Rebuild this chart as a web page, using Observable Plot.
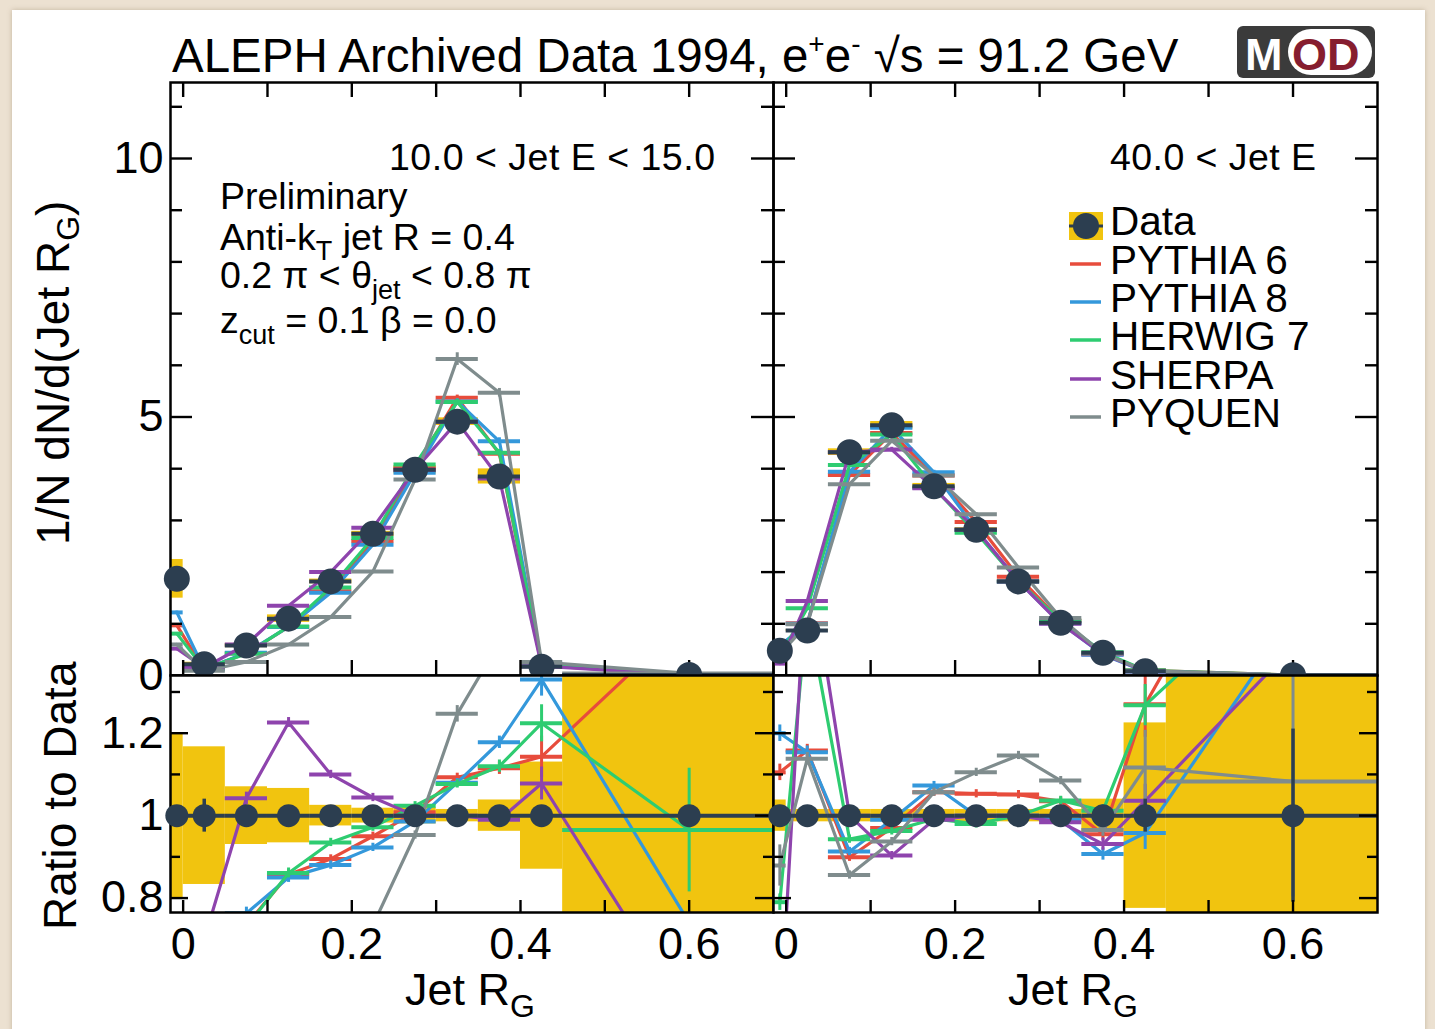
<!DOCTYPE html>
<html><head><meta charset="utf-8">
<script src="https://cdn.jsdelivr.net/npm/d3@7"></script>
<script src="https://cdn.jsdelivr.net/npm/@observablehq/plot@0.6"></script>
<style>
html,body{margin:0;padding:0;background:#ece1d1;}
#page{position:relative;width:1435px;height:1029px;overflow:hidden;}
#card{position:absolute;left:12px;top:10px;width:1413px;height:1040px;background:#fff;box-shadow:0 0 5px rgba(120,100,70,0.35);}
.layer{position:absolute;left:0;top:0;width:1435px;height:1029px;}
.layer svg{position:absolute;left:0;top:0;}
</style></head>
<body><div id="page"><div id="card"></div></div>
<script>
// ---------- data ----------
const xLow    = [-0.015, 0.00, 0.05, 0.10, 0.15, 0.20, 0.25, 0.30, 0.35, 0.40, 0.45];
const xHigh   = [ 0.000, 0.05, 0.10, 0.15, 0.20, 0.25, 0.30, 0.35, 0.40, 0.45, 0.75];
const xCenter = [-0.0075, 0.025, 0.075, 0.125, 0.175, 0.225, 0.275, 0.325, 0.375, 0.425, 0.6];

const genNames  = ["PYTHIA 6", "PYTHIA 8", "HERWIG 7", "SHERPA", "PYQUEN"];
const genColors = ["#e74c3c", "#3498db", "#2ecc71", "#8e44ad", "#7f8c8d"];

// 10.0 < Jet E < 15.0
const dataL     = [1.87, 0.22, 0.58, 1.10, 1.82, 2.74, 3.98, 4.91, 3.85, 0.17, 0.01];
const dataSystL = [0.20, 0.167, 0.07, 0.066, 0.025, 0.018, 0.02, 0.015, 0.038, 0.13, 0.60];
const dataStatL = [0.01, 0.04, 0.01, 0.01, 0.01, 0.01, 0.01, 0.01, 0.01, 0.02, 0.0];
const p6TopL = [0.97, 0.12, 0.43, 0.94, 1.63, 2.60, 4.01, 5.37, 4.29, 0.19, 0.015];
const p8TopL = [1.22, 0.12, 0.44, 0.94, 1.60, 2.53, 3.92, 5.30, 4.53, 0.23, 0.007];
const h7TopL = [0.81, 0.13, 0.42, 0.95, 1.70, 2.66, 4.08, 5.29, 4.31, 0.21, 0.01];
const shTopL = [0.52, 0.15, 0.60, 1.35, 2.00, 2.86, 3.98, 4.91, 3.81, 0.18, 0.005];
const pqTopL = [0.60, 0.09, 0.26, 0.60, 1.13, 2.01, 3.79, 6.12, 5.47, 0.26, 0.04];
const p6RatioL = [0.52, 0.55, 0.735, 0.857, 0.895, 0.950, 1.008, 1.093, 1.115, 1.143, 1.48];
const p8RatioL = [0.65, 0.55, 0.763, 0.850, 0.880, 0.923, 0.986, 1.080, 1.178, 1.330, 0.74];
const h7RatioL = [0.43, 0.60, 0.730, 0.861, 0.935, 0.972, 1.024, 1.077, 1.120, 1.224, 0.965];
const shRatioL = [0.28, 0.70, 1.042, 1.226, 1.100, 1.044, 1.000, 1.000, 0.990, 1.078, 0.51];
const pqRatioL = [0.32, 0.40, 0.450, 0.550, 0.620, 0.734, 0.953, 1.247, 1.420, 1.500, 4.0];
const p6ErrL = [0.02, 0.03, 0.015, 0.012, 0.01, 0.01, 0.01, 0.01, 0.015, 0.05, 0.03];
const p8ErrL = [0.02, 0.03, 0.015, 0.012, 0.01, 0.01, 0.01, 0.01, 0.015, 0.04, 0.01];
const h7ErrL = [0.02, 0.03, 0.015, 0.012, 0.01, 0.01, 0.01, 0.01, 0.015, 0.045, 0.15];
const shErrL = [0.02, 0.03, 0.015, 0.012, 0.01, 0.01, 0.01, 0.01, 0.015, 0.04, 0.03];
const pqErrL = [0.02, 0.03, 0.015, 0.012, 0.01, 0.01, 0.01, 0.02, 0.015, 0.04, 0.05];

// 40.0 < Jet E
const dataR     = [0.48, 0.87, 4.32, 4.84, 3.66, 2.82, 1.82, 1.02, 0.44, 0.08, 0.005];
const dataSystR = [0.038, 0.015, 0.015, 0.015, 0.015, 0.015, 0.015, 0.015, 0.04, 0.225, 0.60];
const dataStatR = [0.01, 0.01, 0.005, 0.005, 0.005, 0.005, 0.005, 0.01, 0.01, 0.04, 0.21];
const p6TopR = [0.53, 1.01, 3.88, 4.69, 3.87, 2.97, 1.91, 1.06, 0.42, 0.10, 0.01];
const p8TopR = [0.58, 1.00, 3.94, 4.79, 3.93, 2.82, 1.82, 1.01, 0.40, 0.077, 0.007];
const h7TopR = [0.38, 1.30, 4.07, 4.66, 3.63, 2.76, 1.82, 1.06, 0.45, 0.10, 0.008];
const shTopR = [0.23, 1.44, 4.32, 4.37, 3.62, 2.82, 1.82, 1.00, 0.41, 0.083, 0.007];
const pqTopR = [0.42, 0.99, 3.70, 4.54, 3.87, 3.12, 2.09, 1.11, 0.42, 0.09, 0.005];
const p6RatioR = [1.105, 1.158, 0.899, 0.970, 1.057, 1.053, 1.051, 1.035, 0.955, 1.270, 1.90];
const p8RatioR = [1.200, 1.154, 0.913, 0.990, 1.073, 1.000, 1.000, 0.990, 0.907, 0.958, 1.48];
const h7RatioR = [0.790, 1.500, 0.943, 0.963, 0.992, 0.980, 1.000, 1.037, 1.012, 1.268, 1.60];
const shRatioR = [0.480, 1.650, 1.000, 0.903, 0.990, 1.000, 1.000, 0.984, 0.931, 1.036, 1.41];
const pqRatioR = [0.879, 1.138, 0.856, 0.937, 1.057, 1.105, 1.146, 1.085, 0.965, 1.117, 1.083];
const p6ErrR = [0.02, 0.015, 0.01, 0.01, 0.01, 0.01, 0.01, 0.01, 0.015, 0.08, 0.03];
const p8ErrR = [0.02, 0.015, 0.01, 0.01, 0.01, 0.01, 0.01, 0.01, 0.015, 0.04, 0.03];
const h7ErrR = [0.02, 0.015, 0.01, 0.01, 0.01, 0.01, 0.01, 0.01, 0.015, 0.05, 0.03];
const shErrR = [0.02, 0.015, 0.01, 0.01, 0.01, 0.01, 0.01, 0.01, 0.015, 0.04, 0.03];
const pqErrR = [0.05, 0.015, 0.01, 0.01, 0.01, 0.01, 0.01, 0.01, 0.015, 0.09, 0.28];

// ticks
const ticksX = [0, 0.1, 0.2, 0.3, 0.4, 0.5, 0.6];
const labelsX = [0, 0.2, 0.4, 0.6];
const topMajor = [0, 5, 10];
const topMinor = [1, 2, 3, 4, 6, 7, 8, 9, 11];
const ratioMajor = [0.8, 1, 1.2];
const ratioMinor = [0.9, 1.1, 1.3];

// ---------- layout ----------
const W = 1435, H = 1029;
const xDomain = [-0.015, 0.7];
const topDomain = [0, 11.47];
const ratioDomain = [0.765, 1.34];
const NAVY = "#2c3e50", YEL = "#f1c40f";
const FONT = "'Liberation Sans', Arial, Helvetica, sans-serif";

function frameTicks(xd, yd, kx, ky, yMaj, yMin, majLen, minLen, xLen, top) {
  const st = {stroke: "black", strokeWidth: 2.4};
  const m = [];
  for (const [vals, len] of [[yMaj, majLen], [yMin, minLen]]) {
    m.push(Plot.ruleY(vals, {y: d => d, x1: xd[0], x2: xd[0] + len * kx, ...st}));
    m.push(Plot.ruleY(vals, {y: d => d, x1: xd[1] - len * kx, x2: xd[1], ...st}));
  }
  m.push(Plot.ruleX(ticksX, {x: d => d, y1: yd[0], y2: yd[0] + xLen * ky, ...st}));
  if (top) m.push(Plot.ruleX(ticksX, {x: d => d, y1: yd[1] - xLen * ky, y2: yd[1], ...st}));
  return m;
}

function panel(o) {
  const [x0, x1] = o.fx, [y0, y1] = o.fy, yd = o.yDomain;
  const kx = (xDomain[1] - xDomain[0]) / (x1 - x0);
  const ky = (yd[1] - yd[0]) / (y1 - y0);
  const rows = xCenter.map((x, i) => {
    const v = o.isRatio ? 1 : o.data[i];
    return {x, lo: xLow[i], hi: xHigh[i], y: v,
      b1: v * (1 - o.syst[i]), b2: v * (1 + o.syst[i]),
      s1: v * (1 - o.stat[i]), s2: v * (1 + o.stat[i])};
  });
  const marks = [];
  if (o.isRatio) marks.push(Plot.frame({fill: "white", stroke: "none"}));
  marks.push(Plot.rect(rows, {x1: "lo", x2: "hi", y1: "b1", y2: "b2", fill: YEL, clip: true}));
  o.mc.forEach((vals, g) => {
    const r = xCenter.map((x, i) => ({x, lo: xLow[i], hi: xHigh[i], y: vals[i],
      e: o.isRatio ? o.err[g][i] : vals[i] * o.err[g][i]}));
    const c = genColors[g];
    marks.push(Plot.line(r, {x: "x", y: "y", stroke: c, strokeWidth: 3.2, clip: true}));
    marks.push(Plot.ruleX(r, {x: "x", y1: d => d.y - d.e, y2: d => d.y + d.e, stroke: c, strokeWidth: 3, clip: true}));
    marks.push(Plot.ruleY(r, {y: "y", x1: "lo", x2: "hi", stroke: c, strokeWidth: 4, clip: true}));
  });
  marks.push(Plot.ruleY(rows, {y: "y", x1: "lo", x2: "hi", stroke: NAVY, strokeWidth: 4, clip: true}));
  marks.push(Plot.ruleX(rows, {x: "x", y1: "s1", y2: "s2", stroke: NAVY, strokeWidth: 3.5, clip: true}));
  marks.push(Plot.frame({stroke: "black", strokeWidth: 2.5}));
  marks.push(...frameTicks(xDomain, yd, kx, ky, o.yMaj, o.yMin, o.majLen, o.minLen, o.xLen, !o.isRatio));
  marks.push(Plot.dot(rows, {x: "x", y: "y", r: o.dotR, fill: NAVY, stroke: "none"}));
  if (o.showY) marks.push(Plot.axisY({ticks: o.yMaj, tickSize: 0, tickPadding: 7, fontSize: 45,
    tickFormat: d => String(d), label: null, fill: "black"}));
  if (o.showX) marks.push(Plot.axisX({ticks: labelsX, tickSize: 0, tickPadding: 15, fontSize: 45,
    tickFormat: d => String(d), label: null, fill: "black"}));
  const svg = Plot.plot({
    width: W, height: H,
    marginLeft: x0, marginRight: W - x1, marginTop: y0, marginBottom: H - y1,
    x: Object.assign({domain: xDomain, label: null}, o.showX ? {} : {axis: null}),
    y: Object.assign({domain: yd, label: null}, o.showY ? {} : {axis: null}),
    style: {background: "transparent", fontFamily: FONT, fontSize: "45px", color: "black", overflow: "visible"},
    marks
  });
  const div = document.createElement("div");
  div.className = "layer";
  div.appendChild(svg);
  document.getElementById("page").appendChild(div);
}

const FX_L = [170, 773], FX_R = [773, 1377], FY_T = [82, 675], FY_B = [675, 912];
const topCommon = {fy: FY_T, yDomain: topDomain, yMaj: topMajor, yMin: topMinor, majLen: 22, minLen: 12, xLen: 15, dotR: 13, isRatio: false};
const ratCommon = {fy: FY_B, yDomain: ratioDomain, yMaj: ratioMajor, yMin: ratioMinor, majLen: 18, minLen: 10, xLen: 12, dotR: 11.5, isRatio: true, showX: true};

panel({...topCommon, fx: FX_L, data: dataL, syst: dataSystL, stat: dataStatL, showY: true,
  mc: [p6TopL, p8TopL, h7TopL, shTopL, pqTopL], err: [p6ErrL, p8ErrL, h7ErrL, shErrL, pqErrL]});
panel({...topCommon, fx: FX_R, data: dataR, syst: dataSystR, stat: dataStatR, showY: false,
  mc: [p6TopR, p8TopR, h7TopR, shTopR, pqTopR], err: [p6ErrR, p8ErrR, h7ErrR, shErrR, pqErrR]});
panel({...ratCommon, fx: FX_L, data: dataL, syst: dataSystL, stat: dataStatL, showY: true,
  mc: [p6RatioL, p8RatioL, h7RatioL, shRatioL, pqRatioL], err: [p6ErrL, p8ErrL, h7ErrL, shErrL, pqErrL]});
panel({...ratCommon, fx: FX_R, data: dataR, syst: dataSystR, stat: dataStatR, showY: false,
  mc: [p6RatioR, p8RatioR, h7RatioR, shRatioR, pqRatioR], err: [p6ErrR, p8ErrR, h7ErrR, shErrR, pqErrR]});

// ---------- text overlay ----------
const legendBase = [274, 312, 350, 389, 427];
let leg = `<rect x="1069" y="212" width="34" height="28" fill="${YEL}"/>
<line x1="1069" x2="1103" y1="226" y2="226" stroke="${NAVY}" stroke-width="3"/>
<circle cx="1086" cy="226" r="13" fill="${NAVY}"/>
<text x="1110" y="235">Data</text>`;
genNames.forEach((n, i) => {
  leg += `<line x1="1070" x2="1101" y1="${legendBase[i] - 10}" y2="${legendBase[i] - 10}" stroke="${genColors[i]}" stroke-width="3.5"/>
<text x="1110" y="${legendBase[i]}">${n}</text>`;
});

const ov = document.createElement("div");
ov.className = "layer";
ov.innerHTML = `<svg width="${W}" height="${H}" xmlns="http://www.w3.org/2000/svg" font-family="${FONT}" fill="black">
<text x="172" y="72" font-size="47.5">ALEPH Archived Data 1994, e<tspan font-size="28" dy="-19">+</tspan><tspan dy="19">e</tspan><tspan font-size="28" dy="-19">-</tspan><tspan dy="19"> √s = 91.2 GeV</tspan></text>
<rect x="1237" y="26" width="138" height="52" rx="6" fill="#3b3b3b"/>
<text x="1245" y="70" font-size="45" font-weight="bold" fill="white">M</text>
<rect x="1288" y="29" width="84" height="46" rx="23" fill="white"/>
<text x="1292" y="70" font-size="45" font-weight="bold" fill="#861d2f">OD</text>
<g font-size="37.5">
<text x="389" y="170" textLength="326" lengthAdjust="spacing">10.0 &lt; Jet E &lt; 15.0</text>
<text x="1110" y="170" textLength="206" lengthAdjust="spacing">40.0 &lt; Jet E</text>
<text x="220" y="209">Preliminary</text>
<text x="220" y="250">Anti-k<tspan font-size="27" dy="10">T</tspan><tspan dy="-10"> jet R = 0.4</tspan></text>
<text x="220" y="288">0.2 π &lt; θ<tspan font-size="27" dy="11">jet</tspan><tspan dy="-11"> &lt; 0.8 π</tspan></text>
<text x="220" y="333">z<tspan font-size="27" dy="11">cut</tspan><tspan dy="-11"> = 0.1 β = 0.0</tspan></text>
</g>
<g font-size="40.5">${leg}</g>
<text transform="translate(69,545) rotate(-90)" font-size="46">1/N dN/d(Jet R<tspan font-size="32" dy="10">G</tspan><tspan dy="-10">)</tspan></text>
<text transform="translate(76,930) rotate(-90)" font-size="46">Ratio to Data</text>
<text x="405" y="1005" font-size="45">Jet R<tspan font-size="32" dy="12">G</tspan></text>
<text x="1008" y="1005" font-size="45">Jet R<tspan font-size="32" dy="12">G</tspan></text>
</svg>`;
document.getElementById("page").appendChild(ov);
</script>
</body></html>
